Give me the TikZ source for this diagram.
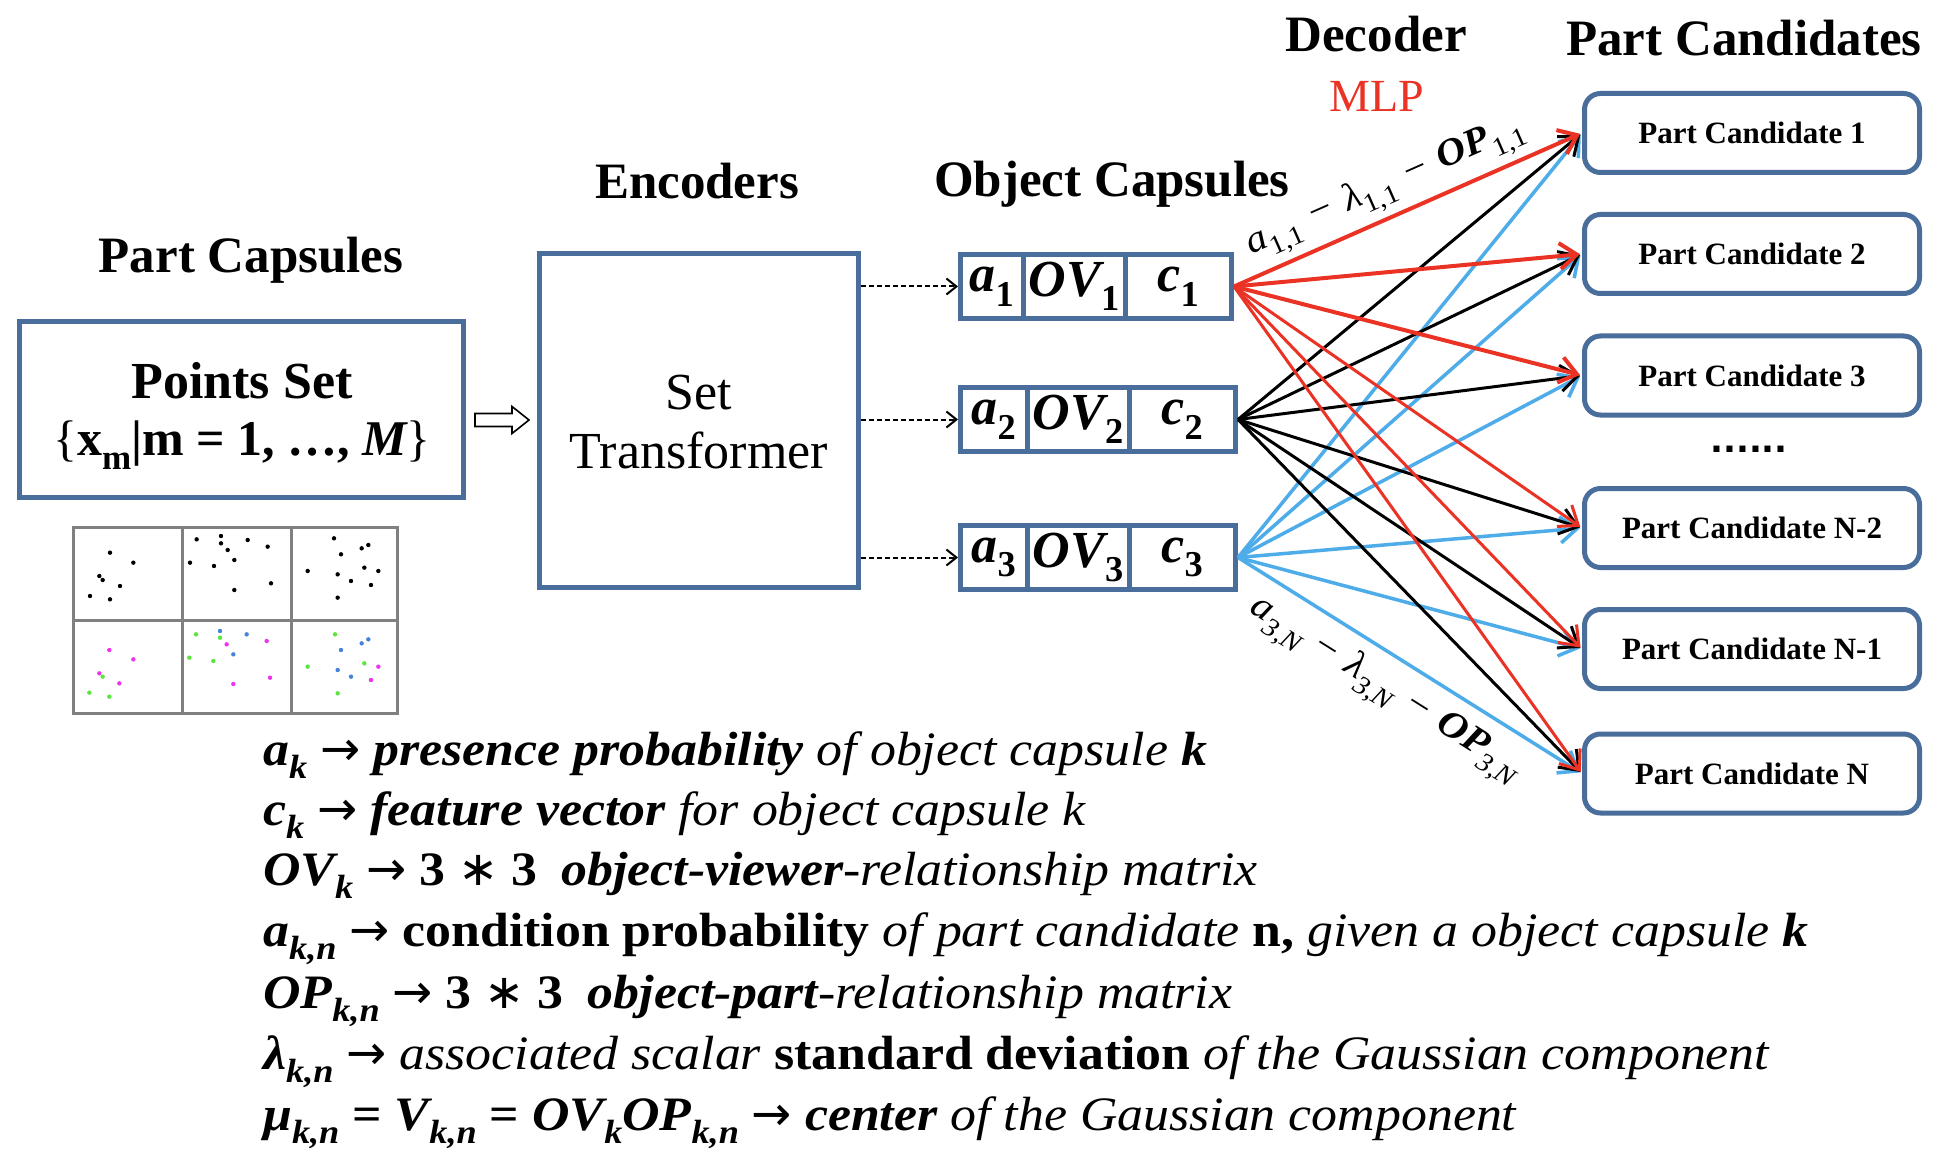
\documentclass[tikz,border=0pt]{standalone}
\usepackage{fontspec}
\setmainfont{Liberation Serif}
\newfontfamily\legfam{Liberation Serif}[FakeStretch=1.08]
\newfontfamily\djv{DejaVu Sans}
\usetikzlibrary{arrows.meta,calc}
\definecolor{boxblue}{RGB}{74,110,155}
\definecolor{lred}{RGB}{234,51,36}
\definecolor{lblue}{RGB}{78,172,233}
\definecolor{gridgray}{RGB}{128,128,128}
\definecolor{dmag}{RGB}{240,50,240}
\definecolor{dgreen}{RGB}{90,230,60}
\definecolor{dblue}{RGB}{70,130,220}
\newcommand{\bi}[1]{{\bfseries\itshape #1}}
\newcommand{\ita}[1]{{\itshape #1}}
\newcommand{\mysb}[1]{\raisebox{-0.28em}{\scalebox{0.7}{#1}}}
\newcommand{\fs}[1]{\fontsize{#1}{#1}\selectfont}
\newcommand{\mns}{\hspace{0.35em}−\hspace{0.35em}}
\newcommand{\rar}{{\djv\mdseries\upshape →}}
\begin{document}
\begin{tikzpicture}[x=1pt,y=-1pt,
  bbox/.style={draw=boxblue, line width=5pt, inner sep=0pt},
  cell/.style={draw=boxblue, line width=5pt, inner sep=0pt, minimum height=64pt, font=\fs{52}},
  pcbox/.style={draw=boxblue, line width=5pt, rounded corners=16pt, minimum width=335pt, minimum height=79pt, inner sep=0pt, font=\bfseries\fs{31}},
  ttl/.style={anchor=base, inner sep=0pt, font=\bfseries\fs{51}},
  legl/.style={anchor=base west, inner sep=0pt, font={\legfam\fs{48}}},
  arr/.style={-{Straight Barb[length=17pt,width=26pt]}, shorten >=2pt, line join=round},
  dasharr/.style={-{Straight Barb[length=10pt,width=16pt]}, line width=2pt, dash pattern=on 5pt off 3pt},
]
\useasboundingbox (0,0) rectangle (1936,1166);
\fill[white] (0,0) rectangle (1936,1166);

% titles
\node[ttl] (tpc) at (251,273) {Part Capsules};
\node[ttl] (tenc) at (697,199) {Encoders};
\node[ttl] (tobj) at (1112,197) {Object Capsules};
\node[ttl] (tdec) at (1376,52) {Decoder};
\node[anchor=base, inner sep=0pt, font=\fs{46}, text=lred] (tmlp) at (1377,112) {MLP};
\node[ttl] (tcand) at (1744,56) {Part Candidates};

% points set
\node[bbox, minimum width=444pt, minimum height=176pt] (ps) at (241.5,409.5) {};
\node[anchor=base, inner sep=0pt, font=\bfseries\fs{52}] (pst) at (242,398) {Points Set};
\node[anchor=base, inner sep=0pt, font=\fs{50}] (psf) at (242,455) {\{\textbf{x}\mysb{\textbf{m}}\textbf{|m = 1, …,} \bi{M}\}};

% set transformer
\node[bbox, minimum width=319pt, minimum height=334pt] (st) at (699,420.5) {};
\node[anchor=base, inner sep=0pt, font=\fs{52}] (st1) at (699,409) {Set};
\node[anchor=base, inner sep=0pt, font=\fs{52}] (st2) at (699,468) {Transformer};

% hollow block arrow from Points Set to Set Transformer
\coordinate (hs) at ($(ps.east |- 0,420)+(9,0)$);
\draw[black, line width=1.6pt, fill=white, line join=miter]
  (hs) ++(0,-6.5) -- ++(37,0) -- ++(0,-7) -- ++(17,13.5) -- ++(-17,13.5) -- ++(0,-7) -- ++(-37,0) -- cycle;

% image grid
\draw[gridgray, line width=3pt] (73,527) rectangle (397,713);
\draw[gridgray, line width=3pt] (182,527) -- (182,713) (291,527) -- (291,713) (73,620) -- (397,620);
\foreach \x/\y in {150/98,220/128,118/168,128/180,180/198,90/228,150/238,
  410/58,483/48,483/70,563/60,623/80,503/90,390/128,462/138,523/120,633/190,523/210,
  822/55,905/85,925/75,843/103,743/153,833/163,913/143,955/153,873/183,933/195,833/233}
  \fill[black] ({60+\x/3},{520+\y/3}) circle (2.2pt);
\foreach \x/\y in {148/390,220/418,118/460,178/490,500/373,620/363,630/473,520/492,955/440,933/480}
  \fill[dmag] ({60+\x/3},{520+\y/3}) circle (2.2pt);
\foreach \x/\y in {128/470,88/518,148/530,408/343,480/353,388/413,460/423,825/343,743/440,913/430,833/520}
  \fill[dgreen] ({60+\x/3},{520+\y/3}) circle (2.2pt);
\foreach \x/\y in {480/333,560/343,520/403,905/370,925/358,843/390,833/450,873/470}
  \fill[dblue] ({60+\x/3},{520+\y/3}) circle (2.2pt);

% object capsules
\node[cell, minimum width=62.5pt] (a1) at (991.75,286.5) {\bi{a}\mysb{\textbf{1}}};
\node[cell, minimum width=102pt] (ov1) at (1074,286.5) {\bi{OV}\mysb{\textbf{1}}};
\node[cell, minimum width=106.5pt] (c1) at (1178.25,286.5) {\bi{c}\mysb{\textbf{1}}};
\node[cell, minimum width=66.5pt] (a2) at (993.75,419.5) {\bi{a}\mysb{\textbf{2}}};
\node[cell, minimum width=102pt] (ov2) at (1078,419.5) {\bi{OV}\mysb{\textbf{2}}};
\node[cell, minimum width=106.5pt] (c2) at (1182.25,419.5) {\bi{c}\mysb{\textbf{2}}};
\node[cell, minimum width=66.5pt] (a3) at (993.75,557.5) {\bi{a}\mysb{\textbf{3}}};
\node[cell, minimum width=102pt] (ov3) at (1078,557.5) {\bi{OV}\mysb{\textbf{3}}};
\node[cell, minimum width=106.5pt] (c3) at (1182.25,557.5) {\bi{c}\mysb{\textbf{3}}};

% dashed arrows
\foreach \k in {1,2,3}
  \draw[dasharr] (st.east |- a\k.west) -- (a\k.west);

% part candidates
\node[pcbox] (pc1) at (1752,133) {Part Candidate 1};
\node[pcbox] (pc2) at (1752,254) {Part Candidate 2};
\node[pcbox] (pc3) at (1752,375.5) {Part Candidate 3};
\node[pcbox] (pc4) at (1752,528) {Part Candidate N-2};
\node[pcbox] (pc5) at (1752,649) {Part Candidate N-1};
\node[pcbox] (pc6) at (1752,773.5) {Part Candidate N};
\node[anchor=base, inner sep=0pt, font={\djv\bfseries\fs{34}}] (dots) at (1749,452) {......};

% connectors
\foreach \t in {1,...,5}
  \draw[arr, lblue, line width=3.5pt] (c3.east) -- (pc\t.west);
\draw[arr, lblue, line width=3.5pt] (c3.east) -- node[pos=0.48, sloped, below=12pt, inner sep=0pt, font={\legfam\fs{38}}, text=black] (lab2)
  {\ita{a}\mysb{\ita{3,N}}\mns\ita{λ}\mysb{\ita{3,N}}\mns\bi{OP}\mysb{\ita{3,N}}} (pc6.west);
\foreach \t in {1,...,6}
  \draw[arr, black, line width=3pt] (c2.east) -- (pc\t.west);
\foreach \t in {4,5,6}
  \draw[arr, lred, line width=3pt] (c1.east) -- (pc\t.west);
\foreach \t in {2,3}
  \draw[arr, lred, line width=4pt] (c1.east) -- (pc\t.west);
\draw[arr, lred, line width=4pt] (c1.east) -- node[pos=0.47, sloped, above=6pt, inner sep=0pt, font={\legfam\fs{38}}, text=black] (lab1)
  {\ita{a}\mysb{1,1}\mns\ita{λ}\mysb{1,1}\mns\bi{OP}\mysb{1,1}} (pc1.west);

% legend
\node[legl] (l1) at (263,765) {\bi{a}\mysb{\bi{k}} \rar{} \bi{presence probability} \ita{of object capsule} \bi{k}};
\node[legl] (l2) at (263,825) {\bi{c}\mysb{\bi{k}} \rar{} \bi{feature vector} \ita{for object capsule k}};
\node[legl] (l3) at (263,885) {\bi{OV}\mysb{\bi{k}} \rar{} \textbf{3 {\djv\mdseries ∗} 3}\hspace{0.5em}\bi{object-viewer}\ita{-relationship matrix}};
\node[legl] (l4) at (263,946) {\bi{a}\mysb{\bi{k,n}} \rar{} \textbf{condition probability} \ita{of part candidate} \textbf{n,} \ita{given a object capsule} \bi{k}};
\node[legl] (l5) at (263,1008) {\bi{OP}\mysb{\bi{k,n}} \rar{} \textbf{3 {\djv\mdseries ∗} 3}\hspace{0.5em}\bi{object-part}\ita{-relationship matrix}};
\node[legl] (l6) at (263,1069) {\bi{λ}\mysb{\bi{k,n}} \rar{} \ita{associated scalar} \textbf{standard deviation} \ita{of the Gaussian component}};
\node[legl] (l7) at (263,1130) {\bi{μ}\mysb{\bi{k,n}} \textbf{=} \bi{V}\mysb{\bi{k,n}} \textbf{=} \bi{OV}\mysb{\bi{k}}\bi{OP}\mysb{\bi{k,n}} \rar{} \bi{center} \ita{of the Gaussian component}};
\end{tikzpicture}
\end{document}
